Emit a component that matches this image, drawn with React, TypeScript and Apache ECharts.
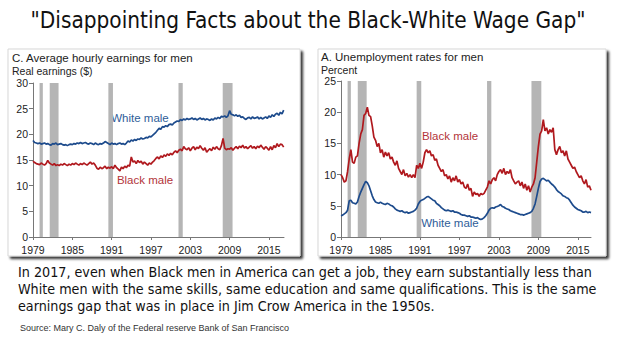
import React, { useEffect, useRef } from "react";
import * as echarts from "echarts";

const BASE_YEAR = 1979;
const TICK_YEARS = [1979, 1985, 1991, 1997, 2003, 2009, 2015];
const RECESSIONS = [
  [1980.0, 1980.5],
  [1981.55, 1982.9],
  [1990.5, 1991.2],
  [2001.2, 2001.85],
  [2007.95, 2009.45],
];

// Quarterly values starting 1979 Q1
const WHITE_EARNINGS = [
  18.8, 18.4, 18.3, 18.2,
  18.3, 18.1, 18.2, 18.3,
  18.1, 18.2, 18.0, 17.9,
  18.2, 18.1, 18.3, 18.0,
  18.1, 18.2, 18.0, 17.9,
  18.0, 17.8, 18.0, 18.1,
  18.0, 18.2, 18.1, 18.3,
  18.2, 18.4, 18.2, 18.3,
  18.4, 18.2, 18.1, 18.3,
  18.2, 18.0, 18.3, 18.1,
  18.0, 18.2, 18.1, 18.3,
  18.6, 18.4, 18.2, 18.0,
  18.3, 18.1, 18.2, 18.0,
  18.2, 18.3, 18.1, 18.2,
  18.0, 18.3, 18.7, 18.5,
  18.9, 18.7, 19.0, 18.8,
  19.1, 19.0, 19.3, 19.1,
  19.2, 19.4, 19.3, 19.6,
  19.5, 19.8, 20.1, 20.4,
  20.8, 21.2, 21.0, 21.5,
  21.4, 21.7, 21.5, 21.9,
  22.0, 21.8, 22.2, 22.4,
  22.6, 22.5, 22.9, 22.7,
  23.0, 22.8, 23.1, 22.9,
  23.0, 23.2, 22.9, 23.1,
  22.8, 23.0, 23.2, 22.9,
  23.1, 22.8, 23.0, 22.9,
  22.7, 23.0, 22.8, 23.2,
  23.0, 23.3, 23.1, 23.5,
  23.4, 23.6, 23.3, 23.6,
  24.6, 23.9, 23.8, 23.6,
  23.8, 23.5, 23.7, 23.3,
  23.4, 23.1, 22.9, 23.2,
  23.3, 23.0, 23.4, 23.1,
  23.2, 23.4, 23.0, 23.3,
  23.0, 23.2, 23.4, 23.1,
  23.6, 23.3, 23.8, 23.5,
  23.9, 24.1, 23.7, 24.3,
  24.0, 24.7,
];

const BLACK_EARNINGS = [
  14.8, 14.5, 14.3, 14.2,
  14.1, 14.4, 14.2, 14.0,
  14.3, 14.9, 14.4, 14.2,
  14.0, 14.3, 13.9, 14.1,
  13.9, 14.2, 14.0, 14.3,
  14.1, 13.9, 14.2, 14.0,
  14.3, 14.1, 14.4, 14.2,
  14.0, 14.3, 14.1, 14.4,
  14.2, 14.0, 14.3, 14.6,
  14.2, 14.4, 14.0, 13.4,
  13.2, 13.6, 13.3, 13.5,
  13.8, 13.3, 13.6, 13.4,
  13.7, 13.3, 14.0, 13.5,
  13.2, 12.9, 13.6, 13.3,
  13.8, 13.5, 14.0, 13.8,
  15.6, 14.6, 14.8, 14.3,
  14.9, 14.5, 14.8, 14.2,
  14.6, 14.3, 14.0, 14.4,
  14.2, 14.6, 14.9, 15.3,
  15.6, 15.2, 15.8, 15.5,
  16.0, 15.7, 16.2, 15.9,
  16.3, 16.0, 16.5, 16.8,
  16.4, 16.9, 17.1, 16.8,
  17.6, 17.2, 17.0, 17.4,
  16.8, 17.3, 17.6, 17.0,
  17.5, 17.2, 17.8, 17.3,
  16.9, 17.4, 16.5, 16.9,
  17.2, 16.8, 17.5, 17.1,
  17.6, 17.2, 17.0, 17.8,
  19.2, 17.3, 17.0, 17.2,
  17.1, 17.4, 16.9, 17.3,
  17.6, 17.2, 17.7, 17.4,
  17.9, 17.3, 17.6, 17.2,
  17.5, 17.8, 17.3, 17.6,
  17.2, 17.7, 17.4, 17.9,
  17.5, 17.1, 17.6, 17.3,
  16.9, 17.6, 17.0, 17.8,
  17.4, 18.2, 17.6, 18.1,
  18.0, 17.5,
];

const BLACK_UNEMP = [
  10.0, 9.5, 8.8, 9.0,
  10.5, 12.5, 14.0, 12.0,
  11.8, 12.8, 13.0, 15.0,
  16.5, 17.2, 19.5, 19.8,
  20.8, 19.5, 19.3, 17.8,
  16.0, 15.5, 14.5, 15.0,
  13.5, 14.0, 12.8, 13.6,
  13.0, 13.5, 12.5, 12.8,
  12.0, 11.5, 12.2, 11.0,
  10.5, 10.0, 10.8, 9.8,
  10.2, 9.6, 10.0, 9.5,
  10.0, 9.5, 11.5, 11.0,
  11.8, 11.0, 12.0, 13.5,
  14.0, 13.5, 13.8, 13.0,
  13.2, 12.3, 12.5, 11.5,
  11.0, 10.5, 10.8, 9.8,
  10.0, 9.3, 9.8, 8.8,
  9.5, 9.0, 9.8, 8.8,
  9.2, 8.5, 8.8, 8.0,
  7.8, 8.5, 7.5, 7.8,
  6.5, 7.2, 6.8, 7.0,
  6.5, 7.0, 6.8, 7.0,
  7.5, 8.0, 9.0, 8.5,
  9.2, 9.5, 9.0, 10.0,
  10.5, 10.8, 10.2, 11.0,
  10.0, 10.5, 10.2, 10.8,
  9.5, 9.0, 8.5, 8.8,
  9.0, 8.2, 8.8, 7.8,
  8.5, 7.5, 8.2, 7.2,
  8.0, 8.5, 9.5, 12.0,
  14.5, 16.5, 17.0, 18.8,
  17.0, 17.5, 16.5, 17.2,
  16.8, 17.5, 14.0, 13.2,
  14.0, 14.5, 13.5, 13.8,
  13.0, 13.8, 12.5, 12.0,
  11.5, 11.0, 11.2, 10.5,
  10.0, 9.5, 9.8, 9.0,
  8.5, 9.2, 8.0, 8.2,
  7.5,
];

const WHITE_UNEMP = [
  3.4, 3.5, 3.7, 3.9,
  4.3, 5.8, 5.9, 5.5,
  5.4, 5.3, 5.6, 6.5,
  7.2, 7.8, 8.4, 8.9,
  8.7, 8.2, 7.4, 6.6,
  6.0, 5.6, 5.5, 5.4,
  5.6, 5.4, 5.3, 5.2,
  5.4, 5.3, 5.1, 5.0,
  4.8, 4.5, 4.3, 4.2,
  4.1, 4.2, 4.0, 3.9,
  4.0, 3.8, 3.9, 4.0,
  4.1, 4.3, 4.6, 5.3,
  5.7, 5.9, 6.0, 6.2,
  6.4, 6.5, 6.3, 6.1,
  5.9, 5.8, 5.4, 5.2,
  5.0, 4.7, 4.5, 4.3,
  4.2, 4.3, 4.2, 4.1,
  4.2, 4.0, 4.0, 3.9,
  3.8, 3.6, 3.5, 3.5,
  3.4, 3.3, 3.4, 3.2,
  3.2, 3.1, 3.0, 3.1,
  2.9, 2.8, 2.9, 3.1,
  3.4, 3.8, 4.3, 4.6,
  4.7, 4.6, 4.8, 4.9,
  5.0, 5.2, 4.9, 4.8,
  4.6, 4.5, 4.4, 4.2,
  4.1, 4.0, 3.9, 3.8,
  3.7, 3.6, 3.6, 3.5,
  3.6, 3.7, 3.8, 3.9,
  4.1, 4.6, 5.3, 6.5,
  7.8, 8.9, 9.3, 9.4,
  9.2, 9.0, 9.1, 8.8,
  8.5, 8.3, 8.0, 7.6,
  7.3, 7.1, 6.9, 6.6,
  6.5, 6.3, 6.2, 5.9,
  5.5, 5.1, 4.8, 4.6,
  4.4, 4.3, 4.2, 4.0,
  4.0, 4.1, 3.9, 4.0,
  3.9,
];

const TITLE = '"Disappointing Facts about the Black-White Wage Gap"';
const LEFT_TITLE = "C. Average hourly earnings for men";
const LEFT_SUB = "Real earnings ($)";
const RIGHT_TITLE = "A. Unemployment rates for men";
const RIGHT_SUB = "Percent";
const BODY_LINES = [
  "In 2017, even when Black men in America can get a job, they earn substantially less than",
  "White men with the same skills, same education and same qualifications. This is the same",
  "earnings gap that was in place in Jim Crow America in the 1950s.",
];
const SOURCE = "Source: Mary C. Daly of the Federal reserve Bank of San Francisco";

const BLUE = "#1d4b8c";
const RED = "#b0191e";
const SANS = "'Liberation Sans', Arial, sans-serif";
const COND = "'DejaVu Sans Condensed', 'DejaVu Sans', sans-serif";

const toSeries = (vals: number[]) => vals.map((v, i) => [i / 4, v]);

export default function App() {
  const ref = useRef<HTMLDivElement>(null);
  useEffect(() => {
    if (!ref.current) return;
    const chart = echarts.init(ref.current, undefined, { renderer: "svg" });
    const tickOffsets = TICK_YEARS.map((y) => y - BASE_YEAR);
    const markAreaData = RECESSIONS.map(([a, b]) => [
      { xAxis: a - BASE_YEAR },
      { xAxis: b - BASE_YEAR },
    ]);
    const xAxisCommon = {
      type: "value",
      min: 0,
      interval: 6,
      axisLine: { show: true, lineStyle: { color: "#777", width: 1 } },
      axisTick: { show: true, length: 3, customValues: tickOffsets, lineStyle: { color: "#777" } },
      axisLabel: {
        customValues: tickOffsets,
        formatter: (v: number) => String(Math.round(v + BASE_YEAR)),
        color: "#222",
        fontSize: 10.5,
        fontFamily: SANS,
        margin: 7,
      },
      splitLine: { show: false },
    };
    const yAxisCommon = {
      type: "value",
      min: 0,
      interval: 5,
      axisLine: { show: true, lineStyle: { color: "#777", width: 1 } },
      axisTick: { show: true, length: 4, lineStyle: { color: "#777" } },
      axisLabel: { color: "#222", fontSize: 10.5, fontFamily: SANS, margin: 5 },
      splitLine: { show: false },
    };
    const panelRect = (x: number, y: number, w: number, h: number) => ({
      type: "rect",
      z: -10,
      shape: { x, y, width: w, height: h },
      style: {
        fill: "#fff",
        stroke: "#d8d8d8",
        lineWidth: 1,
        shadowColor: "rgba(0,0,0,0.8)",
        shadowBlur: 2,
        shadowOffsetX: 2.5,
        shadowOffsetY: 2.5,
      },
      silent: true,
    });
    const txt = (text: string, x: number, y: number, size: number, color: string, family: string, align = "left", weight = "normal") => ({
      type: "text",
      x,
      y,
      style: {
        text,
        fill: color,
        fontSize: size,
        fontFamily: family,
        fontWeight: weight,
        align,
        verticalAlign: "middle",
      },
      silent: true,
    });
    chart.setOption({
      animation: false,
      backgroundColor: "#ffffff",
      grid: [
        { left: 33, top: 83, width: 251, height: 154 },
        { left: 341, top: 81, width: 250, height: 156 },
      ],
      xAxis: [
        { ...xAxisCommon, gridIndex: 0, max: 38.3 },
        { ...xAxisCommon, gridIndex: 1, max: 38 },
      ],
      yAxis: [
        { ...yAxisCommon, gridIndex: 0, max: 30 },
        { ...yAxisCommon, gridIndex: 1, max: 25 },
      ],
      series: [
        {
          name: "White male earnings",
          type: "line",
          xAxisIndex: 0,
          yAxisIndex: 0,
          data: toSeries(WHITE_EARNINGS),
          showSymbol: false,
          lineStyle: { color: BLUE, width: 1.7 },
          markArea: { silent: true, itemStyle: { color: "#b5b5b5" }, data: markAreaData },
        },
        {
          name: "Black male earnings",
          type: "line",
          xAxisIndex: 0,
          yAxisIndex: 0,
          data: toSeries(BLACK_EARNINGS),
          showSymbol: false,
          lineStyle: { color: RED, width: 1.7 },
        },
        {
          name: "Black male unemployment",
          type: "line",
          xAxisIndex: 1,
          yAxisIndex: 1,
          data: toSeries(BLACK_UNEMP),
          showSymbol: false,
          lineStyle: { color: RED, width: 1.7 },
          markArea: { silent: true, itemStyle: { color: "#b5b5b5" }, data: markAreaData },
        },
        {
          name: "White male unemployment",
          type: "line",
          xAxisIndex: 1,
          yAxisIndex: 1,
          data: toSeries(WHITE_UNEMP),
          showSymbol: false,
          lineStyle: { color: BLUE, width: 1.7 },
        },
      ],
      graphic: {
        elements: [
          panelRect(8, 49, 292, 207),
          panelRect(318, 49, 288, 207),
          txt(TITLE, 308, 20, 22.4, "#111", COND, "center"),
          txt(LEFT_TITLE, 12, 58, 11.5, "#222", SANS),
          txt(LEFT_SUB, 12, 71, 10.5, "#222", SANS),
          txt(RIGHT_TITLE, 321, 57, 11.5, "#222", SANS),
          txt(RIGHT_SUB, 321, 70, 10.5, "#222", SANS),
          txt("White male", 140, 118, 11.5, "#2f5d99", SANS, "center"),
          txt("Black male", 145, 180, 11.5, "#b3353a", SANS, "center"),
          txt("Black male", 450, 136, 11.5, "#b3353a", SANS, "center"),
          txt("White male", 450, 223, 11.5, "#2f5d99", SANS, "center"),
          txt(BODY_LINES[0], 18, 272, 14.2, "#111", COND),
          txt(BODY_LINES[1], 18, 289, 14.2, "#111", COND),
          txt(BODY_LINES[2], 18, 306, 14.2, "#111", COND),
          txt(SOURCE, 20, 328, 9, "#333", SANS),
        ],
      },
    });
    return () => chart.dispose();
  }, []);
  return (
    <div
      ref={ref}
      style={{ position: "fixed", left: 0, top: 0, width: 618, height: 351 }}
    />
  );
}
